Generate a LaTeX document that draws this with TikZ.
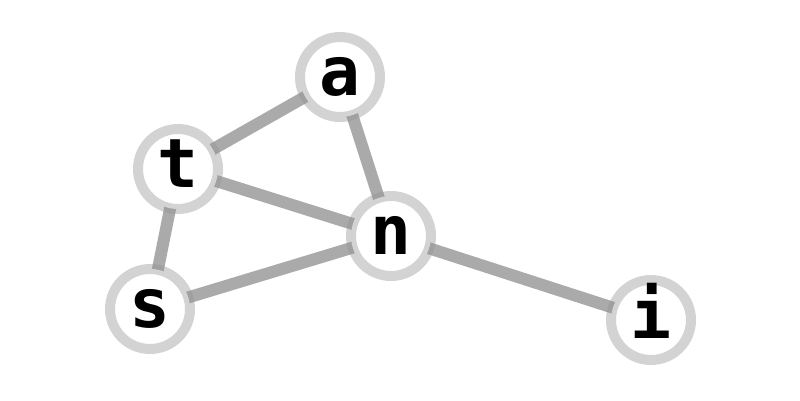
\documentclass[tikz,border=0pt]{standalone}
\usepackage{fontspec}
\setmonofont{DejaVu Sans Mono}
\definecolor{edgegray}{RGB}{170,170,170}
\definecolor{ringgray}{RGB}{145,145,145}
\begin{document}
\begin{tikzpicture}[x=1pt,y=-1pt,
  vert/.style={circle, fill=white, draw=ringgray, draw opacity=0.4, line width=10pt,
    minimum size=80pt, inner sep=0pt, font=\fontsize{68}{80}\selectfont\ttfamily\bfseries,
    text height=37pt, text depth=0pt},
  link/.style={draw=edgegray, line width=12pt}]
\useasboundingbox (0,0) rectangle (800,400);
\coordinate (ca) at (340,77);
\coordinate (ct) at (178,169);
\coordinate (cn) at (391,236);
\coordinate (cs) at (150,309);
\coordinate (ci) at (651,320);
\draw[link] (ca) -- (ct);
\draw[link] (ca) -- (cn);
\draw[link] (ct) -- (cn);
\draw[link] (ct) -- (cs);
\draw[link] (cs) -- (cn);
\draw[link] (cn) -- (ci);
\node[vert] (a) at (ca) {a};
\node[vert] (t) at (ct) {t};
\node[vert] (n) at (cn) {n};
\node[vert] (s) at (cs) {s};
\node[vert] (i) at (ci) {i};
\end{tikzpicture}
\end{document}
